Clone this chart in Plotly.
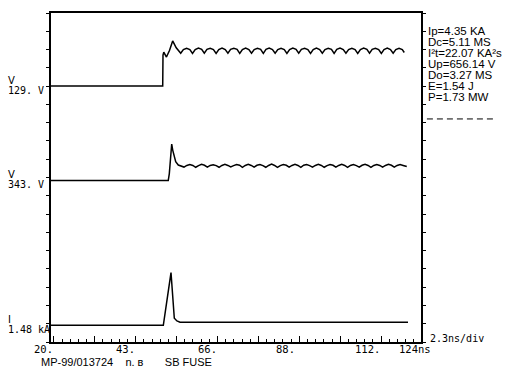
import plotly.graph_objects as go

# ---------------- data (time in ns, amplitude in screen divisions) ----------------
V1_T = [20.0, 51.40, 51.48, 51.70, 52.45, 53.30, 54.20, 55.20, 56.46,
        57.21, 58.12, 59.03, 59.78,
        60.53, 61.44, 62.35, 63.09,
        63.84, 64.75, 65.66, 66.41,
        67.16, 68.07, 68.98, 69.73,
        70.48, 71.39, 72.30, 73.05,
        73.80, 74.71, 75.62, 76.36,
        77.11, 78.02, 78.93, 79.68,
        80.43, 81.34, 82.25, 83.00,
        83.75, 84.66, 85.57, 86.31,
        87.06, 87.97, 88.88, 89.63,
        90.38, 91.29, 92.20, 92.95,
        93.70, 94.61, 95.52, 96.26,
        97.01, 97.92, 98.83, 99.58,
        100.33, 101.24, 102.15, 102.90,
        103.65, 104.56, 105.47, 106.22,
        106.97, 107.88, 108.79, 109.53,
        110.28, 111.19, 112.10, 112.85,
        113.60, 114.51, 115.42, 116.17,
        116.92, 117.83, 118.74, 119.30]
V1_V = [14.00, 14.00, 15.70, 15.86, 15.59, 15.95, 16.47, 16.10, 15.80,
        16.00, 16.07, 16.00, 15.79,
        16.00, 16.08, 16.01, 15.80,
        16.01, 16.07, 16.00, 15.79,
        16.00, 16.08, 16.00, 15.80,
        16.01, 16.07, 16.01, 15.79,
        16.00, 16.08, 16.00, 15.80,
        16.00, 16.07, 16.01, 15.79,
        16.01, 16.08, 16.00, 15.80,
        16.00, 16.07, 16.00, 15.79,
        16.00, 16.08, 16.01, 15.80,
        16.01, 16.07, 16.00, 15.79,
        16.00, 16.08, 16.00, 15.80,
        16.00, 16.07, 16.01, 15.79,
        16.01, 16.08, 16.00, 15.80,
        16.00, 16.07, 16.00, 15.79,
        16.00, 16.08, 16.01, 15.80,
        16.01, 16.07, 16.00, 15.79,
        16.00, 16.08, 16.00, 15.80,
        16.00, 16.07, 16.00, 15.84]

V2_T = [20.0, 52.95, 53.25, 53.55, 53.93, 54.21, 54.57, 55.05, 55.78, 56.54, 57.38,
        58.18, 59.02, 59.87, 60.67,
        61.47, 62.31, 63.15, 63.95,
        64.75, 65.59, 66.44, 67.24,
        68.04, 68.88, 69.72, 70.52,
        71.32, 72.16, 73.00, 73.80,
        74.60, 75.44, 76.29, 77.09,
        77.89, 78.73, 79.57, 80.37,
        81.17, 82.01, 82.85, 83.65,
        84.45, 85.29, 86.14, 86.94,
        87.74, 88.58, 89.42, 90.22,
        91.02, 91.86, 92.70, 93.50,
        94.30, 95.14, 95.99, 96.79,
        97.59, 98.43, 99.27, 100.07,
        100.87, 101.71, 102.56, 103.36,
        104.16, 105.00, 105.84, 106.64,
        107.44, 108.28, 109.13, 109.93,
        110.73, 111.57, 112.41, 113.21,
        114.01, 114.85, 115.69, 116.49,
        117.29, 118.13, 118.98, 119.78, 120.00]
V2_V = [8.83, 8.83, 9.20, 10.20, 10.83, 10.50, 10.14, 9.86, 9.68, 9.63, 9.57,
        9.66, 9.71, 9.66, 9.56,
        9.65, 9.72, 9.67, 9.57,
        9.66, 9.70, 9.65, 9.56,
        9.66, 9.72, 9.66, 9.58,
        9.65, 9.71, 9.67, 9.56,
        9.66, 9.72, 9.66, 9.57,
        9.67, 9.71, 9.65, 9.56,
        9.66, 9.73, 9.66, 9.55,
        9.65, 9.71, 9.67, 9.57,
        9.66, 9.72, 9.66, 9.56,
        9.67, 9.71, 9.65, 9.57,
        9.66, 9.72, 9.66, 9.56,
        9.65, 9.71, 9.67, 9.57,
        9.66, 9.72, 9.66, 9.56,
        9.66, 9.71, 9.65, 9.57,
        9.67, 9.72, 9.66, 9.55,
        9.66, 9.71, 9.66, 9.57,
        9.66, 9.72, 9.67, 9.57,
        9.66, 9.71, 9.66, 9.58, 9.60]

I_T = [20.0, 51.57, 53.73, 54.66, 55.40, 56.26, 120.35]
I_V = [0.91, 0.91, 3.80, 1.30, 1.15, 1.08, 1.08]

CH_NAMES = ["V", "V", "I"]
CH_SCALES = ["129. V", "343. V", "1.48 kA"]
CH_LEVELS = [14.0, 8.83, 0.91]

X_TICK_VALUES = [20, 43, 66, 88, 112, 124]
X_TICK_TEXT = ["20.", "43.", "66.", "88.", "112.", "124ns"]

RESULTS = ["Ip=4.35 KA", "Dc=5.11 MS", "I\u00b2t=22.07 KA\u00b2s", "Up=656.14 V",
           "Do=3.27 MS", "E=1.54 J", "P=1.73 MW"]
TIMEBASE = "2.3ns/div"
FOOTER = "MP-99/013724&nbsp;&nbsp;&nbsp;&nbsp;n. \u0432&nbsp;&nbsp;&nbsp;&nbsp;&nbsp;&nbsp;&nbsp;SB FUSE"

# ---------------- figure ----------------
MONO = "DejaVu Sans Mono"
SANS = "Liberation Sans, Arial, sans-serif"
LINE = dict(color="black", width=1.5)

fig = go.Figure()
for t, v in [(V1_T, V1_V), (V2_T, V2_V), (I_T, I_V)]:
    fig.add_trace(go.Scatter(x=t, y=v, mode="lines", line=LINE, hoverinfo="skip"))

fig.update_layout(
    width=509, height=375,
    margin=dict(l=51, r=88, t=13, b=33),
    paper_bgcolor="white", plot_bgcolor="white",
    showlegend=False,
    xaxis=dict(range=[20, 124], showgrid=False, zeroline=False,
               showline=True, linecolor="black", linewidth=1.5, mirror=True,
               ticks="inside", tick0=20.8, dtick=11.5, ticklen=6, tickwidth=1,
               tickcolor="black", showticklabels=False,
               minor=dict(ticks="inside", tick0=20.8, dtick=2.3, ticklen=3,
                          tickwidth=1, tickcolor="black", showgrid=False)),
    yaxis=dict(range=[0, 18], showgrid=False, zeroline=False,
               showline=True, linecolor="black", linewidth=1.5, mirror="ticks",
               ticks="outside", tick0=0, dtick=1, ticklen=3, tickwidth=1,
               tickcolor="black", showticklabels=False),
)

ann = []
# channel labels on the left
for name, scale, lvl in zip(CH_NAMES, CH_SCALES, CH_LEVELS):
    ann.append(dict(text=name, xref="paper", yref="y", x=-0.119, y=lvl,
                    xanchor="left", yanchor="middle", yshift=6, showarrow=False,
                    borderpad=0,
                    font=dict(family="DejaVu Sans", size=10, color="black")))
    ann.append(dict(text=scale.replace(" ", "&nbsp;"), xref="paper", yref="y", x=-0.119, y=lvl,
                    xanchor="left", yanchor="middle", yshift=-4, showarrow=False,
                    borderpad=0,
                    font=dict(family=MONO, size=10, color="black")))

# x tick labels
for v, txt in zip(X_TICK_VALUES, X_TICK_TEXT):
    is_last = txt.endswith("ns")
    ann.append(dict(text=txt, xref="x", yref="paper", x=v, y=0,
                    xanchor="center" if is_last else "right",
                    yanchor="middle", xshift=-6 if is_last else 3, yshift=-6.5,
                    showarrow=False, borderpad=0,
                    font=dict(family=MONO, size=10.5, color="black")))

# time base
ann.append(dict(text=TIMEBASE, xref="paper", yref="paper", x=1.022, y=0,
                xanchor="left", yanchor="middle", yshift=4, showarrow=False,
                borderpad=0, font=dict(family=MONO, size=10, color="black")))

# measurement results on the right
for i, txt in enumerate(RESULTS):
    ann.append(dict(text=txt, xref="paper", yref="paper", x=1.016, y=1,
                    xanchor="left", yanchor="middle", yshift=-(18.4 + 11 * i),
                    showarrow=False, borderpad=0,
                    font=dict(family=SANS, size=11.5, color="black")))

# footer
ann.append(dict(text=FOOTER, xref="paper", yref="paper", x=-0.03, y=0,
                xanchor="left", yanchor="middle", yshift=-19.5, showarrow=False,
                borderpad=0, font=dict(family=SANS, size=11, color="black")))

fig.update_layout(annotations=ann)

# dashed separator under the results
fig.add_shape(type="line", xref="paper", yref="paper", x0=1.016, x1=1.2,
              y0=0.678, y1=0.678, line=dict(color="black", width=1, dash="6px,4px"))

fig.write_html("out.html")
